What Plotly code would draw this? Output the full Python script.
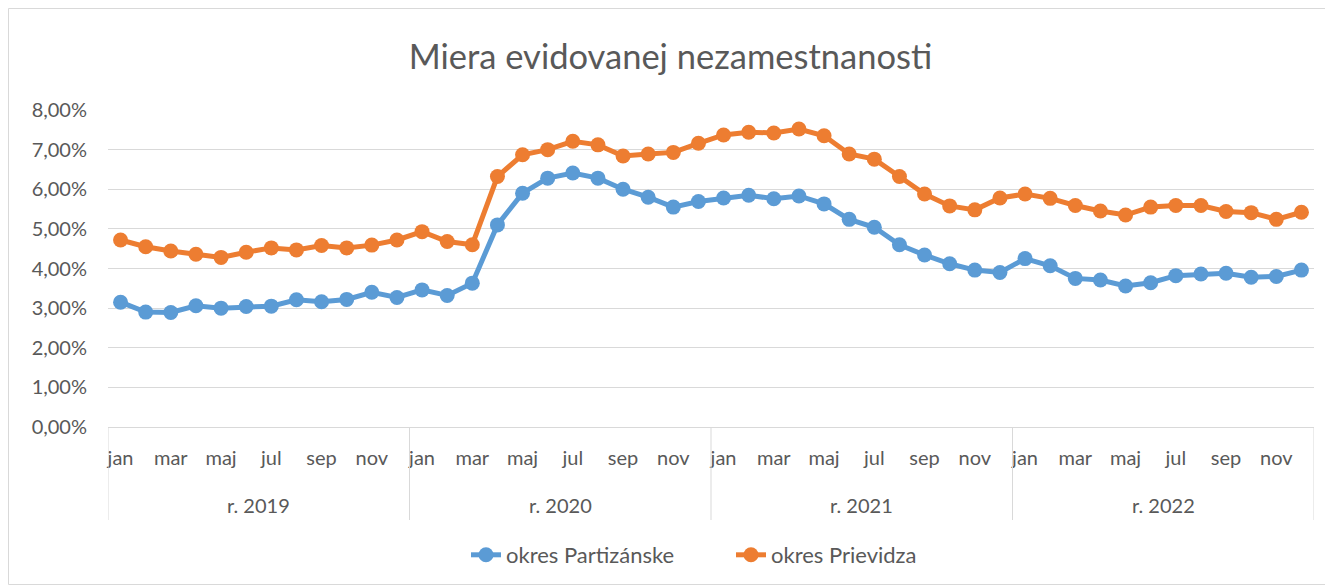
import plotly.graph_objects as go

months = ["jan", "feb", "mar", "apr", "maj", "jún", "jul", "aug", "sep", "okt", "nov", "dec"]
years = ["r. 2019", "r. 2020", "r. 2021", "r. 2022"]

partizanske = [
    3.15, 2.90, 2.89, 3.06, 3.00, 3.04, 3.05, 3.21, 3.16, 3.22, 3.40, 3.27,
    3.46, 3.32, 3.63, 5.10, 5.90, 6.28, 6.41, 6.28, 6.00, 5.80, 5.55, 5.69,
    5.78, 5.85, 5.76, 5.83, 5.63, 5.24, 5.04, 4.60, 4.34, 4.12, 3.96, 3.90,
    4.25, 4.07, 3.75, 3.71, 3.56, 3.64, 3.82, 3.86, 3.88, 3.78, 3.80, 3.96,
]
prievidza = [
    4.72, 4.55, 4.44, 4.36, 4.28, 4.41, 4.52, 4.47, 4.58, 4.52, 4.59, 4.72,
    4.93, 4.68, 4.60, 6.32, 6.87, 7.00, 7.21, 7.12, 6.84, 6.89, 6.93, 7.16,
    7.37, 7.44, 7.42, 7.52, 7.35, 6.89, 6.76, 6.32, 5.88, 5.58, 5.48, 5.78,
    5.88, 5.77, 5.59, 5.45, 5.35, 5.55, 5.59, 5.59, 5.44, 5.41, 5.24, 5.42,
]
series_names = ["okres Partizánske", "okres Prievidza"]
colors = ["#5b9bd5", "#ed7d31"]

n = len(partizanske)
x = list(range(n))
fig = go.Figure()
for name, vals, col in zip(series_names, [partizanske, prievidza], colors):
    fig.add_trace(go.Scatter(
        x=x, y=[v / 100 for v in vals], name=name, mode="lines+markers",
        line=dict(color=col, width=5), marker=dict(color=col, size=15),
    ))

font = "Lato, 'Liberation Sans', sans-serif"
txt = "#595959"
tickvals = list(range(0, n, 2))
ticktext = [months[i % 12] for i in tickvals]

W, H = 1325, 580
L, R, T, B = 100, 19, 102, 161
ph = H - T - B
pw = W - L - R

grey = "#d9d9d9"
shapes = []
for k in range(len(years) + 1):
    shapes.append(dict(type="line", xref="x", yref="paper",
                       x0=k * 12 - 0.5, x1=k * 12 - 0.5, y0=0, y1=-93 / ph,
                       line=dict(color=grey, width=1)))
shapes.append(dict(type="rect", xref="paper", yref="paper",
                   x0=(0.5 - L) / pw, x1=(W - 3.5 - L) / pw,
                   y0=-(B - 3.5) / ph, y1=(T - 0.5) / ph + 1,
                   line=dict(color=grey, width=1), layer="below"))

annotations = []
for k, yr in enumerate(years):
    annotations.append(dict(x=k * 12 + 5.5, y=-78 / ph, xref="x", yref="paper",
                            text=yr, showarrow=False,
                            font=dict(size=20, color=txt, family=font),
                            xanchor="center", yanchor="middle"))

fig.update_layout(
    width=W, height=H,
    margin=dict(l=L, r=R, t=T, b=B),
    paper_bgcolor="white", plot_bgcolor="white",
    separators=", ",
    title=dict(text="Miera evidovanej nezamestnanosti", x=0.5, xanchor="center",
               y=1 - 49 / H, yanchor="middle",
               font=dict(size=34.5, color=txt, family=font)),
    xaxis=dict(range=[-0.5, n - 0.5], tickmode="array", tickvals=tickvals,
               ticktext=ticktext, showgrid=False, zeroline=False,
               showline=False, ticks="outside", ticklen=13,
               tickcolor="rgba(0,0,0,0)",
               tickfont=dict(size=20, color=txt, family=font)),
    yaxis=dict(range=[0, 0.08], dtick=0.01, tickformat=".2%",
               showgrid=True, gridcolor=grey, gridwidth=1, zeroline=True,
               zerolinecolor=grey, zerolinewidth=1, showline=False,
               ticks="outside", ticklen=16, tickcolor="rgba(0,0,0,0)",
               tickfont=dict(size=20, color=txt, family=font)),
    legend=dict(orientation="h", x=(447 - 8 - L + 19) / pw, xanchor="left",
                y=-128 / ph, yanchor="middle",
                font=dict(size=22, color=txt, family=font),
                itemwidth=30, tracegroupgap=0,
                entrywidth=220, entrywidthmode="pixels"),
    shapes=shapes, annotations=annotations,
    showlegend=True,
)

fig.write_html("out.html")
